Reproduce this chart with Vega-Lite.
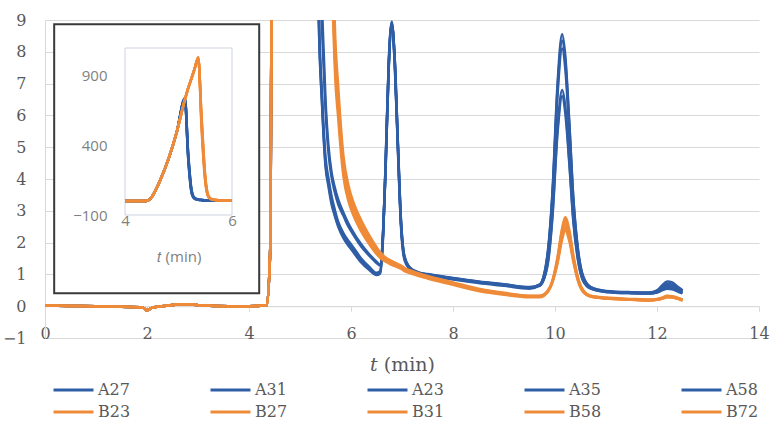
{
  "$schema": "https://vega.github.io/schema/vega-lite/v6.json",
  "width": 714,
  "height": 318,
  "autosize": {"type": "none"},
  "padding": {"left": 45, "top": 20, "right": 12, "bottom": 85},
  "background": "white",
  "config": {"view": {"stroke": null}, "font": "DejaVu Serif", "axis": {"labelOverlap": false}, "axisY": {"labelOverlap": false}},
  "datasets": {
    "d": [
      {"t":0,"A27":0.02,"A31":0.02,"A23":0.02,"A35":0.02,"A58":0.02,"B23":0.02,"B27":0.02,"B31":0.02,"B58":0.02,"B72":0.02},
      {"t":0.5,"A27":0.01,"A31":0.01,"A23":0.01,"A35":0.01,"A58":0.01,"B23":0.01,"B27":0.01,"B31":0.01,"B58":0.01,"B72":0.01},
      {"t":1,"A27":0,"A31":0,"A23":0,"A35":0,"A58":0,"B23":0,"B27":0,"B31":0,"B58":0,"B72":0},
      {"t":1.5,"A27":-0.02,"A31":-0.02,"A23":-0.02,"A35":-0.02,"A58":-0.02,"B23":-0.02,"B27":-0.02,"B31":-0.02,"B58":-0.02,"B72":-0.02},
      {"t":1.9,"A27":-0.03,"A31":-0.03,"A23":-0.03,"A35":-0.03,"A58":-0.03,"B23":-0.03,"B27":-0.03,"B31":-0.03,"B58":-0.03,"B72":-0.03},
      {"t":2.0,"A27":-0.13,"A31":-0.13,"A23":-0.13,"A35":-0.13,"A58":-0.13,"B23":-0.13,"B27":-0.13,"B31":-0.13,"B58":-0.13,"B72":-0.13},
      {"t":2.1,"A27":-0.05,"A31":-0.05,"A23":-0.05,"A35":-0.05,"A58":-0.05,"B23":-0.05,"B27":-0.05,"B31":-0.05,"B58":-0.05,"B72":-0.05},
      {"t":2.4,"A27":0.02,"A31":0.02,"A23":0.02,"A35":0.02,"A58":0.02,"B23":0.02,"B27":0.02,"B31":0.02,"B58":0.02,"B72":0.02},
      {"t":2.8,"A27":0.06,"A31":0.06,"A23":0.06,"A35":0.06,"A58":0.06,"B23":0.06,"B27":0.06,"B31":0.06,"B58":0.06,"B72":0.06},
      {"t":3.1,"A27":0.02,"A31":0.02,"A23":0.02,"A35":0.02,"A58":0.02,"B23":0.02,"B27":0.02,"B31":0.02,"B58":0.02,"B72":0.02},
      {"t":3.6,"A27":0,"A31":0,"A23":0,"A35":0,"A58":0,"B23":0,"B27":0,"B31":0,"B58":0,"B72":0},
      {"t":4.0,"A27":0,"A31":0,"A23":0,"A35":0,"A58":0,"B23":0,"B27":0,"B31":0,"B58":0,"B72":0},
      {"t":4.35,"A27":0.03,"A31":0.03,"A23":0.03,"A35":0.03,"A58":0.03,"B23":0.03,"B27":0.03,"B31":0.03,"B58":0.03,"B72":0.03},
      {"t":4.42,"A27":2,"A31":2,"A23":2,"A35":2,"A58":2,"B23":2,"B27":2,"B31":2,"B58":2,"B72":2},
      {"t":4.5,"A27":30,"A31":30,"A23":30,"A35":30,"A58":30,"B23":30,"B27":30,"B31":30,"B58":30,"B72":30},
      {"t":4.65,"A27":143,"A31":143,"A23":143,"A35":143,"A58":143,"B23":143,"B27":143,"B31":143,"B58":143,"B72":143},
      {"t":4.97,"A27":500,"A31":500,"A23":500,"A35":500,"A58":500,"B23":500,"B27":500,"B31":500,"B58":500,"B72":500},
      {"t":5.12,"A27":735,"A31":740,"A23":730,"A35":738,"A58":732,"B23":730,"B27":730,"B31":730,"B58":730,"B72":730},
      {"t":5.18,"A27":330,"A31":350,"A23":310,"A35":345,"A58":320,"B23":810,"B27":810,"B31":810,"B58":810,"B72":810},
      {"t":5.25,"A27":53,"A31":60,"A23":48,"A35":70,"A58":62,"B23":890,"B27":890,"B31":890,"B58":890,"B72":890},
      {"t":5.3,"A27":18,"A31":20,"A23":16,"A35":24,"A58":21,"B23":950,"B27":950,"B31":950,"B58":950,"B72":950},
      {"t":5.37,"A27":9.0,"A31":9.3,"A23":8.8,"A35":12,"A58":11,"B23":1030,"B27":1025,"B31":1035,"B58":1020,"B72":1028},
      {"t":5.43,"A27":6.5,"A31":6.7,"A23":6.4,"A35":9.5,"A58":8.8,"B23":560,"B27":600,"B31":530,"B58":620,"B72":580},
      {"t":5.5,"A27":4.5,"A31":4.7,"A23":4.4,"A35":6.5,"A58":6.2,"B23":150,"B27":170,"B31":140,"B58":180,"B72":160},
      {"t":5.56,"A27":3.85,"A31":4.0,"A23":3.75,"A35":5.0,"A58":4.8,"B23":30,"B27":35,"B31":28,"B58":38,"B72":33},
      {"t":5.62,"A27":3.3,"A31":3.45,"A23":3.2,"A35":4.2,"A58":4.05,"B23":12,"B27":13,"B31":11.5,"B58":14,"B72":12.5},
      {"t":5.68,"A27":2.9,"A31":3.05,"A23":2.85,"A35":3.75,"A58":3.6,"B23":8.0,"B27":8.5,"B31":7.6,"B58":9.0,"B72":8.2},
      {"t":5.75,"A27":2.55,"A31":2.65,"A23":2.5,"A35":3.35,"A58":3.2,"B23":6.2,"B27":6.6,"B31":5.9,"B58":6.9,"B72":6.4},
      {"t":5.85,"A27":2.2,"A31":2.3,"A23":2.15,"A35":2.95,"A58":2.85,"B23":4.3,"B27":4.55,"B31":4.1,"B58":4.75,"B72":4.4},
      {"t":5.95,"A27":1.95,"A31":2.05,"A23":1.9,"A35":2.6,"A58":2.5,"B23":3.45,"B27":3.65,"B31":3.3,"B58":3.8,"B72":3.55},
      {"t":6.0,"A27":1.85,"A31":1.95,"A23":1.8,"A35":2.45,"A58":2.37,"B23":3.2,"B27":3.38,"B31":3.05,"B58":3.5,"B72":3.28},
      {"t":6.2,"A27":1.42,"A31":1.5,"A23":1.38,"A35":1.95,"A58":1.88,"B23":2.45,"B27":2.6,"B31":2.35,"B58":2.7,"B72":2.5},
      {"t":6.35,"A27":1.18,"A31":1.25,"A23":1.15,"A35":1.65,"A58":1.6,"B23":2.05,"B27":2.18,"B31":1.97,"B58":2.25,"B72":2.1},
      {"t":6.5,"A27":1.0,"A31":1.05,"A23":0.98,"A35":1.4,"A58":1.36,"B23":1.7,"B27":1.8,"B31":1.64,"B58":1.86,"B72":1.74},
      {"t":6.57,"A27":1.05,"A31":1.1,"A23":1.03,"A35":1.3,"A58":1.28,"B23":1.58,"B27":1.66,"B31":1.52,"B58":1.7,"B72":1.6},
      {"t":6.63,"A27":2.3,"A31":2.3,"A23":2.2,"A35":2.4,"A58":2.35,"B23":1.5,"B27":1.57,"B31":1.45,"B58":1.6,"B72":1.52},
      {"t":6.68,"A27":4.5,"A31":4.4,"A23":4.6,"A35":4.5,"A58":4.4,"B23":1.45,"B27":1.5,"B31":1.4,"B58":1.53,"B72":1.46},
      {"t":6.74,"A27":7.6,"A31":7.5,"A23":7.7,"A35":7.6,"A58":7.5,"B23":1.4,"B27":1.45,"B31":1.35,"B58":1.47,"B72":1.41},
      {"t":6.8,"A27":8.9,"A31":8.85,"A23":8.95,"A35":8.9,"A58":8.85,"B23":1.35,"B27":1.4,"B31":1.3,"B58":1.42,"B72":1.36},
      {"t":6.86,"A27":7.6,"A31":7.7,"A23":7.5,"A35":7.6,"A58":7.7,"B23":1.3,"B27":1.35,"B31":1.26,"B58":1.37,"B72":1.31},
      {"t":6.92,"A27":5.0,"A31":5.1,"A23":4.9,"A35":5.0,"A58":5.1,"B23":1.26,"B27":1.3,"B31":1.22,"B58":1.32,"B72":1.27},
      {"t":6.98,"A27":2.6,"A31":2.7,"A23":2.5,"A35":2.6,"A58":2.7,"B23":1.22,"B27":1.26,"B31":1.18,"B58":1.28,"B72":1.23},
      {"t":7.05,"A27":1.5,"A31":1.55,"A23":1.45,"A35":1.52,"A58":1.55,"B23":1.14,"B27":1.18,"B31":1.1,"B58":1.2,"B72":1.15},
      {"t":7.15,"A27":1.2,"A31":1.22,"A23":1.17,"A35":1.2,"A58":1.22,"B23":1.08,"B27":1.12,"B31":1.04,"B58":1.13,"B72":1.09},
      {"t":7.3,"A27":1.05,"A31":1.07,"A23":1.03,"A35":1.06,"A58":1.08,"B23":1.0,"B27":1.03,"B31":0.96,"B58":1.05,"B72":1.01},
      {"t":7.5,"A27":0.98,"A31":1.0,"A23":0.96,"A35":0.99,"A58":1.01,"B23":0.9,"B27":0.93,"B31":0.87,"B58":0.95,"B72":0.91},
      {"t":7.75,"A27":0.92,"A31":0.94,"A23":0.9,"A35":0.93,"A58":0.95,"B23":0.8,"B27":0.83,"B31":0.77,"B58":0.85,"B72":0.81},
      {"t":8.0,"A27":0.86,"A31":0.88,"A23":0.84,"A35":0.87,"A58":0.89,"B23":0.7,"B27":0.73,"B31":0.67,"B58":0.75,"B72":0.71},
      {"t":8.5,"A27":0.75,"A31":0.77,"A23":0.73,"A35":0.76,"A58":0.78,"B23":0.5,"B27":0.53,"B31":0.48,"B58":0.55,"B72":0.51},
      {"t":9.0,"A27":0.66,"A31":0.68,"A23":0.64,"A35":0.67,"A58":0.69,"B23":0.38,"B27":0.41,"B31":0.36,"B58":0.42,"B72":0.39},
      {"t":9.5,"A27":0.57,"A31":0.59,"A23":0.55,"A35":0.58,"A58":0.6,"B23":0.3,"B27":0.32,"B31":0.28,"B58":0.33,"B72":0.31},
      {"t":9.7,"A27":0.68,"A31":0.68,"A23":0.66,"A35":0.64,"A58":0.66,"B23":0.3,"B27":0.32,"B31":0.28,"B58":0.33,"B72":0.31},
      {"t":9.85,"A27":1.6,"A31":1.55,"A23":1.5,"A35":1.3,"A58":1.25,"B23":0.45,"B27":0.47,"B31":0.43,"B58":0.47,"B72":0.44},
      {"t":9.95,"A27":3.6,"A31":3.5,"A23":3.4,"A35":2.9,"A58":2.8,"B23":0.8,"B27":0.8,"B31":0.77,"B58":0.78,"B72":0.75},
      {"t":10.05,"A27":7.0,"A31":6.85,"A23":6.65,"A35":5.6,"A58":5.45,"B23":1.55,"B27":1.5,"B31":1.45,"B58":1.4,"B72":1.35},
      {"t":10.14,"A27":8.55,"A31":8.35,"A23":8.1,"A35":6.8,"A58":6.6,"B23":2.45,"B27":2.4,"B31":2.3,"B58":2.2,"B72":2.1},
      {"t":10.2,"A27":7.9,"A31":7.75,"A23":7.5,"A35":6.3,"A58":6.1,"B23":2.8,"B27":2.7,"B31":2.6,"B58":2.5,"B72":2.4},
      {"t":10.28,"A27":5.8,"A31":5.7,"A23":5.5,"A35":4.6,"A58":4.5,"B23":2.4,"B27":2.32,"B31":2.25,"B58":2.15,"B72":2.05},
      {"t":10.36,"A27":3.4,"A31":3.35,"A23":3.2,"A35":2.75,"A58":2.65,"B23":1.6,"B27":1.55,"B31":1.5,"B58":1.45,"B72":1.4},
      {"t":10.45,"A27":1.8,"A31":1.75,"A23":1.7,"A35":1.5,"A58":1.45,"B23":0.9,"B27":0.88,"B31":0.85,"B58":0.82,"B72":0.8},
      {"t":10.55,"A27":0.95,"A31":0.93,"A23":0.9,"A35":0.82,"A58":0.8,"B23":0.5,"B27":0.5,"B31":0.48,"B58":0.46,"B72":0.45},
      {"t":10.7,"A27":0.6,"A31":0.6,"A23":0.58,"A35":0.56,"A58":0.55,"B23":0.32,"B27":0.33,"B31":0.31,"B58":0.3,"B72":0.3},
      {"t":11.0,"A27":0.47,"A31":0.48,"A23":0.46,"A35":0.45,"A58":0.45,"B23":0.26,"B27":0.27,"B31":0.25,"B58":0.24,"B72":0.24},
      {"t":11.5,"A27":0.43,"A31":0.44,"A23":0.42,"A35":0.41,"A58":0.41,"B23":0.22,"B27":0.23,"B31":0.21,"B58":0.2,"B72":0.2},
      {"t":11.85,"A27":0.42,"A31":0.43,"A23":0.41,"A35":0.4,"A58":0.4,"B23":0.2,"B27":0.21,"B31":0.19,"B58":0.18,"B72":0.18},
      {"t":12.0,"A27":0.5,"A31":0.48,"A23":0.46,"A35":0.44,"A58":0.43,"B23":0.22,"B27":0.23,"B31":0.21,"B58":0.2,"B72":0.2},
      {"t":12.1,"A27":0.65,"A31":0.6,"A23":0.56,"A35":0.52,"A58":0.5,"B23":0.26,"B27":0.27,"B31":0.25,"B58":0.24,"B72":0.23},
      {"t":12.2,"A27":0.78,"A31":0.7,"A23":0.64,"A35":0.58,"A58":0.55,"B23":0.32,"B27":0.33,"B31":0.3,"B58":0.29,"B72":0.28},
      {"t":12.3,"A27":0.75,"A31":0.68,"A23":0.62,"A35":0.56,"A58":0.53,"B23":0.3,"B27":0.31,"B31":0.29,"B58":0.28,"B72":0.27},
      {"t":12.4,"A27":0.62,"A31":0.57,"A23":0.53,"A35":0.49,"A58":0.47,"B23":0.26,"B27":0.27,"B31":0.25,"B58":0.24,"B72":0.23},
      {"t":12.5,"A27":0.5,"A31":0.47,"A23":0.45,"A35":0.42,"A58":0.4,"B23":0.2,"B27":0.21,"B31":0.19,"B58":0.18,"B72":0.18}
    ]
  },
  "resolve": {"scale": {"x": "independent", "y": "independent"}},
  "layer": [
    {
      "layer": [
        {
          "data": {"name": "d"},
          "transform": [
            {"fold": ["A27","A31","A23","A35","A58","B23","B27","B31","B58","B72"], "as": ["s","y"]}
          ],
          "mark": {"type": "line", "clip": true, "strokeWidth": 2.5, "interpolate": "monotone"},
          "encoding": {
            "x": {
              "field": "t", "type": "quantitative",
              "scale": {"domain": [0, 14], "nice": false, "zero": false},
              "axis": {
                "values": [0,2,4,6,8,10,12,14], "offset": -31.8, "grid": false,
                "domainColor": "#d9d9d9", "domainWidth": 1, "tickColor": "#d9d9d9", "tickSize": 5,
                "labelFont": "DejaVu Serif", "labelFontSize": 16, "labelColor": "#595959", "labelPadding": 14,
                "labelFlush": false, "labelOverlap": false,
                "title": "𝑡 (min)", "titleFont": "DejaVu Serif", "titleFontSize": 19, "titleFontWeight": "normal",
                "titleColor": "#595959", "titlePadding": 14
              }
            },
            "y": {
              "field": "y", "type": "quantitative",
              "scale": {"domain": [-1, 9], "nice": false, "zero": false},
              "axis": {
                "values": [-1,0,1,2,3,4,5,6,7,8,9], "tickCount": 11, "grid": true, "gridColor": "#d9d9d9", "ticks": false,
                "domainColor": "#d9d9d9", "labelFont": "DejaVu Serif", "labelFontSize": 16,
                "labelColor": "#595959", "labelPadding": 19, "labelOverlap": false, "labelBound": false, "title": null
              }
            },
            "color": {
              "field": "s", "type": "nominal",
              "scale": {
                "domain": ["A27","A31","A23","A35","A58","B23","B27","B31","B58","B72"],
                "range": ["#2f5ea6","#2f5ea6","#2f5ea6","#2f5ea6","#2f5ea6","#ef8b38","#ef8b38","#ef8b38","#ef8b38","#ef8b38"]
              },
              "legend": {
                "orient": "none", "legendX": 7, "legendY": 359, "direction": "horizontal", "columns": 5,
                "symbolType": "stroke", "symbolSize": 1600, "symbolStrokeWidth": 3,
                "labelFont": "DejaVu Serif", "labelFontSize": 16, "labelColor": "#595959", "labelOffset": 3,
                "columnPadding": 78, "rowPadding": -1, "clipHeight": 22, "title": null, "gridAlign": "all"
              }
            }
          }
        },
        {
          "data": {"values": [{}]},
          "mark": {"type": "rect", "fill": "white", "stroke": "#3a3a3a", "strokeWidth": 2},
          "encoding": {
            "x": {"datum": 0.18, "type": "quantitative"},
            "x2": {"datum": 4.2},
            "y": {"datum": 0.41, "type": "quantitative"},
            "y2": {"datum": 8.87}
          }
        }
      ]
    },
    {
      "layer": [
        {
          "data": {"values": [{}]},
          "mark": {"type": "rect", "fill": null, "stroke": "#cdd3df", "strokeWidth": 1},
          "encoding": {
            "x": {"datum": 4, "type": "quantitative"},
            "x2": {"datum": 6},
            "y": {"datum": -100, "type": "quantitative"},
            "y2": {"datum": 1100}
          }
        },
        {
          "data": {"name": "d"},
          "transform": [
            {"fold": ["A27","A31","A23","A35","A58","B23","B27","B31","B58","B72"], "as": ["s","y"]},
            {"filter": "datum.t >= 4 && datum.t <= 6"}
          ],
          "mark": {"type": "line", "strokeWidth": 2.5, "interpolate": "monotone"},
          "encoding": {
            "x": {
              "field": "t", "type": "quantitative",
              "scale": {"domain": [4, 6], "range": [80, 187], "nice": false, "zero": false},
              "axis": {
                "orient": "bottom", "offset": -123, "values": [4, 6], "format": "d", "domain": false, "ticks": false, "grid": false,
                "zindex": 2,
                "labelFont": "Open Sans", "labelFontSize": 15, "labelColor": "#7f7f7f", "labelPadding": -2,
                "labelFlush": false,
                "title": "𝑡 (min)", "titleFont": "Open Sans", "titleFontSize": 15, "titleFontWeight": "normal",
                "titleColor": "#7f7f7f", "titlePadding": 21
              }
            },
            "y": {
              "field": "y", "type": "quantitative",
              "scale": {"domain": [-100, 1100], "range": [195, 28], "nice": false, "zero": false},
              "axis": {
                "orient": "left", "offset": -80, "values": [-100, 400, 900], "domain": false, "ticks": false,
                "zindex": 2,
                "grid": false, "labelFont": "Open Sans", "labelFontSize": 15, "labelColor": "#7f7f7f",
                "labelPadding": 18, "labelOverlap": false, "title": null
              }
            },
            "color": {"field": "s", "type": "nominal", "legend": null}
          }
        }
      ]
    }
  ]
}
